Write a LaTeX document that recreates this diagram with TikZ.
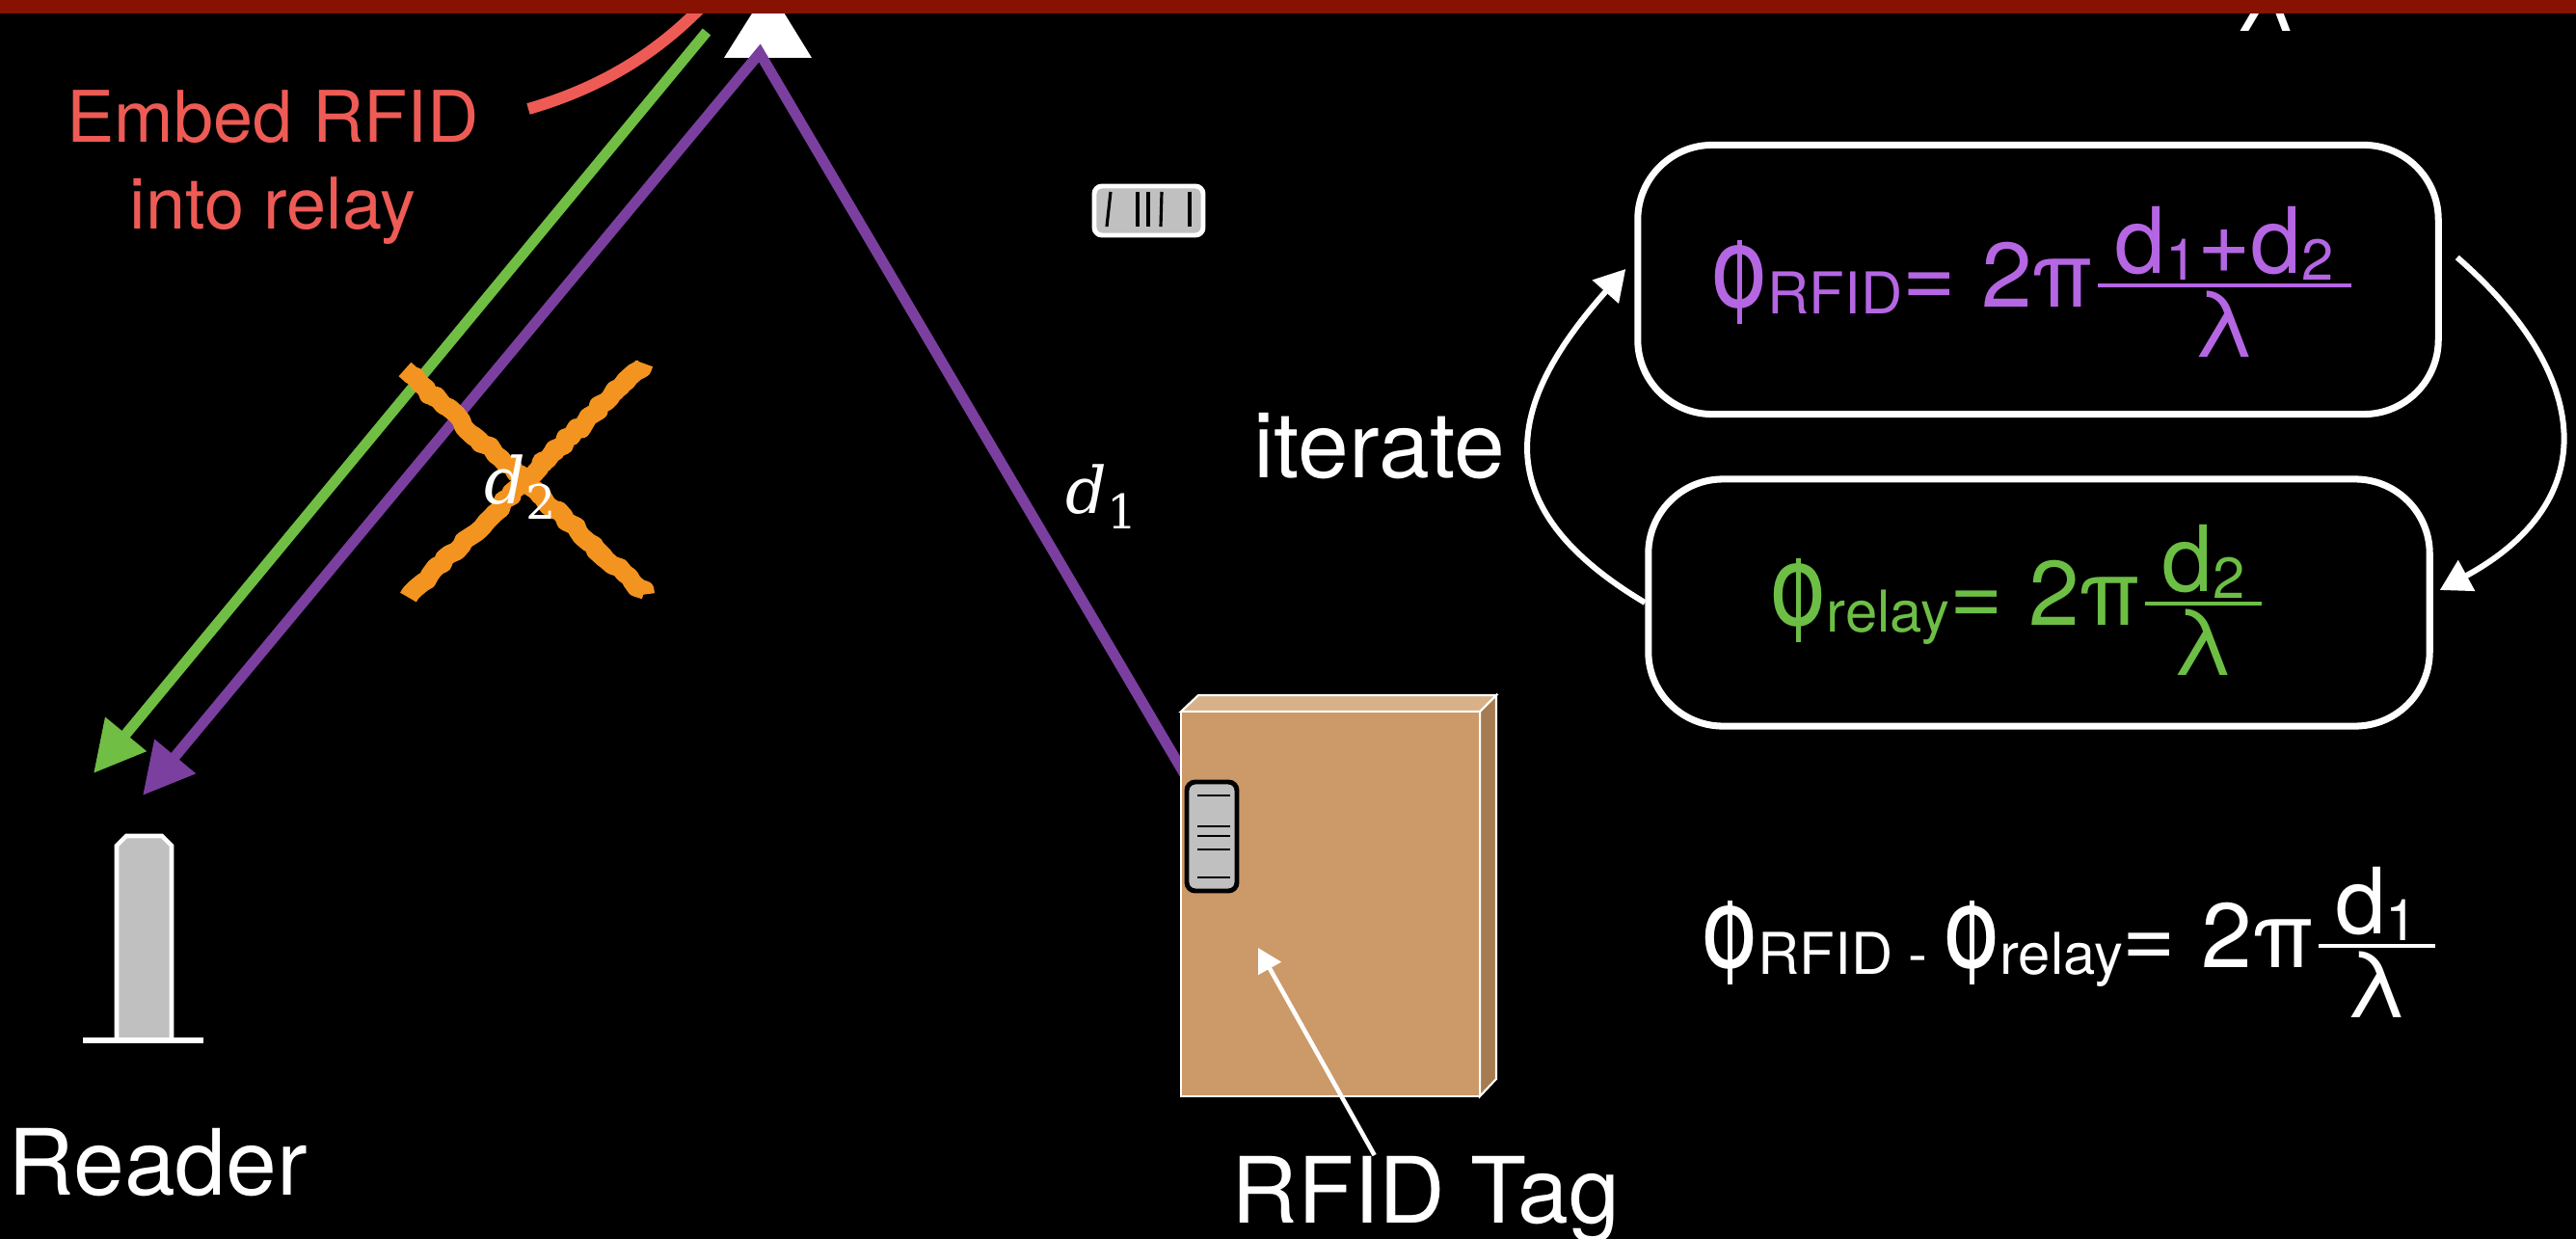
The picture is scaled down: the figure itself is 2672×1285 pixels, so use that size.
\documentclass[tikz,border=0pt]{standalone}
\usepackage{amsmath,amssymb}
\usepackage{fontspec}
\setmainfont{TeX Gyre Heros}
\newfontfamily\labelfont{DejaVu Serif}
\usepackage{xcolor}
\usepackage{tikz}
\usetikzlibrary{arrows.meta,positioning,decorations.pathmorphing}

\definecolor{slidered}{RGB}{136,18,2}
\definecolor{embedred}{RGB}{238,91,85}
\definecolor{raygreen}{RGB}{112,190,68}
\definecolor{raypurple}{RGB}{123,63,160}
\definecolor{eqpurple}{RGB}{181,102,227}
\definecolor{eqgreen}{RGB}{109,190,69}
\definecolor{chalk}{RGB}{243,148,32}
\definecolor{tagbody}{RGB}{192,192,192}
\definecolor{boxfront}{RGB}{204,153,104}
\definecolor{boxtop}{RGB}{216,176,137}
\definecolor{boxside}{RGB}{166,123,82}

% phase symbol: round bowl with a thin stem through it
\newcommand{\phisym}{\rlap{\hspace{7.6pt}\rule[-5pt]{1.3pt}{24.5pt}}\scalebox{1.1}[1.25]{o}}
\newcommand{\lowsub}[1]{\raisebox{-2pt}{\fontsize{17}{17}\selectfont #1}}
\newcommand{\phasefrac}[2]{\ensuremath{\genfrac{}{}{1.1pt}{1}{\mbox{\kern5pt#1\kern5pt}}{\mbox{#2}}}}
\newcommand{\dist}[1]{{\labelfont\itshape d}\raisebox{-4.5pt}{\labelfont\fontsize{14}{14}\selectfont #1}}

\begin{document}
\begin{tikzpicture}[x=0.01cm, y=-0.01cm,
    slidetext/.style={text=white, font=\fontsize{27}{32}\selectfont, inner sep=0pt},
    embedtext/.style={text=embedred, font=\fontsize{21}{25}\selectfont, inner sep=0pt},
    mathlabel/.style={text=white, font=\fontsize{19}{23}\selectfont, inner sep=0pt},
    greenray/.style={raygreen, line width=3.1pt, -{Triangle[length=15pt,width=15pt]}},
    purpleray/.style={raypurple, line width=3.1pt, {Triangle[length=15pt,width=15pt]}-},
    chalkstroke/.style={chalk, line width=5.5pt, line join=round, decorate,
        decoration={random steps, segment length=2pt, amplitude=0.8pt}},
    phasebox/.style={draw=white, line width=2pt, rounded corners=22pt},
    iterarrow/.style={white, line width=1.7pt, -{Triangle[length=9pt,width=10pt]}}]

        \useasboundingbox (0,0) rectangle (2672,1285);
        \clip (0,0) rectangle (2672,1285);
        \fill[black] (0,0) rectangle (2672,1285);

        % Relay antenna
        \fill[white] (797,-13) -- (842,60) -- (751,60) -- cycle;

        % Embed label
        \node[embedtext, anchor=base] (embedtop) at (283,148) {Embed RFID};
        \node[embedtext, anchor=base] (embedbot) at (283,238) {into relay};
        \coordinate (embedfrom) at (548,113);
        \draw[embedred, line width=3.4pt] (embedfrom) .. controls (620,92) and (690,55) .. (752,-20);

        % Rays between reader, relay and tag
        \coordinate (greentop) at (733,33);
        \coordinate (greentip) at (97,802);
        \coordinate (purpletip) at (148,825);
        \coordinate (purpleapex) at (788,55);
        \coordinate (tagwire) at (1237,817);
        \draw[greenray] (greentop) -- (greentip);
        \draw[purpleray] (purpletip) -- (purpleapex) -- (tagwire);

        % d2 crossed out
        \draw[chalkstroke] (420,383) -- (670,617);
        \draw[chalkstroke] (668,377) -- (423,620);
        \draw[chalkstroke, line width=4pt] (424,388) -- (666,612);
        \draw[chalkstroke, line width=4pt] (664,382) -- (427,615);
        \node[mathlabel] (dtwo) at (540,505) {\dist{2}};
        \node[mathlabel] (done) at (1143,515) {\dist{1}};

        % Tag inside the relay
        \draw[white, line width=1.4pt, fill=tagbody, rounded corners=2.3pt] (1135,193) rectangle (1248,244);
        \foreach \x in {1180,1191,1234}
            \draw[black, line width=0.9pt] (\x,199) -- (\x,235);
        \draw[black, line width=0.9pt] (1152,199) -- (1148,235);
        \draw[black, line width=0.9pt] (1205,199) -- (1204,235);

        % Reader
        \draw[white, line width=1.3pt, fill=tagbody] (121,1078) -- (121,877) -- (131,867) -- (168,867) -- (178,877) -- (178,1078);
        \draw[white, line width=1.6pt] (86,1079) -- (211,1079);
        \node[slidetext, anchor=base west] (readerlabel) at (8,1239) {Reader};

        % Box carrying the tag
        \filldraw[white, fill=boxtop, line width=0.6pt] (1225,738) -- (1243,721) -- (1552,721) -- (1535,738) -- cycle;
        \filldraw[white, fill=boxside, line width=0.6pt] (1535,738) -- (1552,721) -- (1552,1119) -- (1535,1137) -- cycle;
        \filldraw[white, fill=boxfront, line width=0.6pt] (1225,738) rectangle (1535,1137);
        \draw[black, line width=1.4pt, fill=tagbody, rounded corners=2.5pt] (1231,811) rectangle (1283,924);
        \foreach \y in {825,857,867,881,910}
            \draw[black, line width=0.6pt] (1242,\y) -- (1276,\y);

        \node[slidetext, anchor=base west] (taglabel) at (1277,1268) {RFID Tag};
        \coordinate (tagpoint) at (1305,983);
        \draw[white, line width=1.3pt, -{Triangle[length=7pt,width=7.5pt]}] ([xshift=-0.53cm]taglabel.north) -- (tagpoint);

        % Phase equations
        \node[slidetext, anchor=base west] (iterlabel) at (1300,495) {iterate};
        \node[phasebox, minimum width=8.3cm, minimum height=2.79cm] (rfidbox) at (2114,290) {};
        \node[phasebox, minimum width=8.1cm, minimum height=2.56cm] (relaybox) at (2115,625) {};
        \node[slidetext, text=eqpurple, anchor=base west] (rfideq) at (1775,318)
            {\phisym\lowsub{RFID}= 2π\phasefrac{d\lowsub{1}+d\lowsub{2}}{λ}};
        \node[slidetext, text=eqgreen, anchor=base west] (relayeq) at (1836,648)
            {\phisym\lowsub{relay}= 2π\phasefrac{d\lowsub{2}}{λ}};
        \node[slidetext, anchor=base west] (diffeq) at (1765,1003)
            {\phisym\lowsub{RFID - }\phisym\lowsub{relay}= 2π\phasefrac{d\lowsub{1}}{λ}};

        \draw[iterarrow] (relaybox.west) .. controls (1530,520) and (1570,410) .. ([shift={(-9,-11)}]rfidbox.west);
        \draw[iterarrow] ([shift={(16,-23)}]rfidbox.east) .. controls (2690,390) and (2700,520) .. ([shift={(7,-13)}]relaybox.east);

        \node[slidetext, anchor=base] (lambdafrag) at (2350,33) {λ};

        % Title bar
        \fill[slidered] (0,0) rectangle (2672,14);
    \end{tikzpicture}
\end{document}
